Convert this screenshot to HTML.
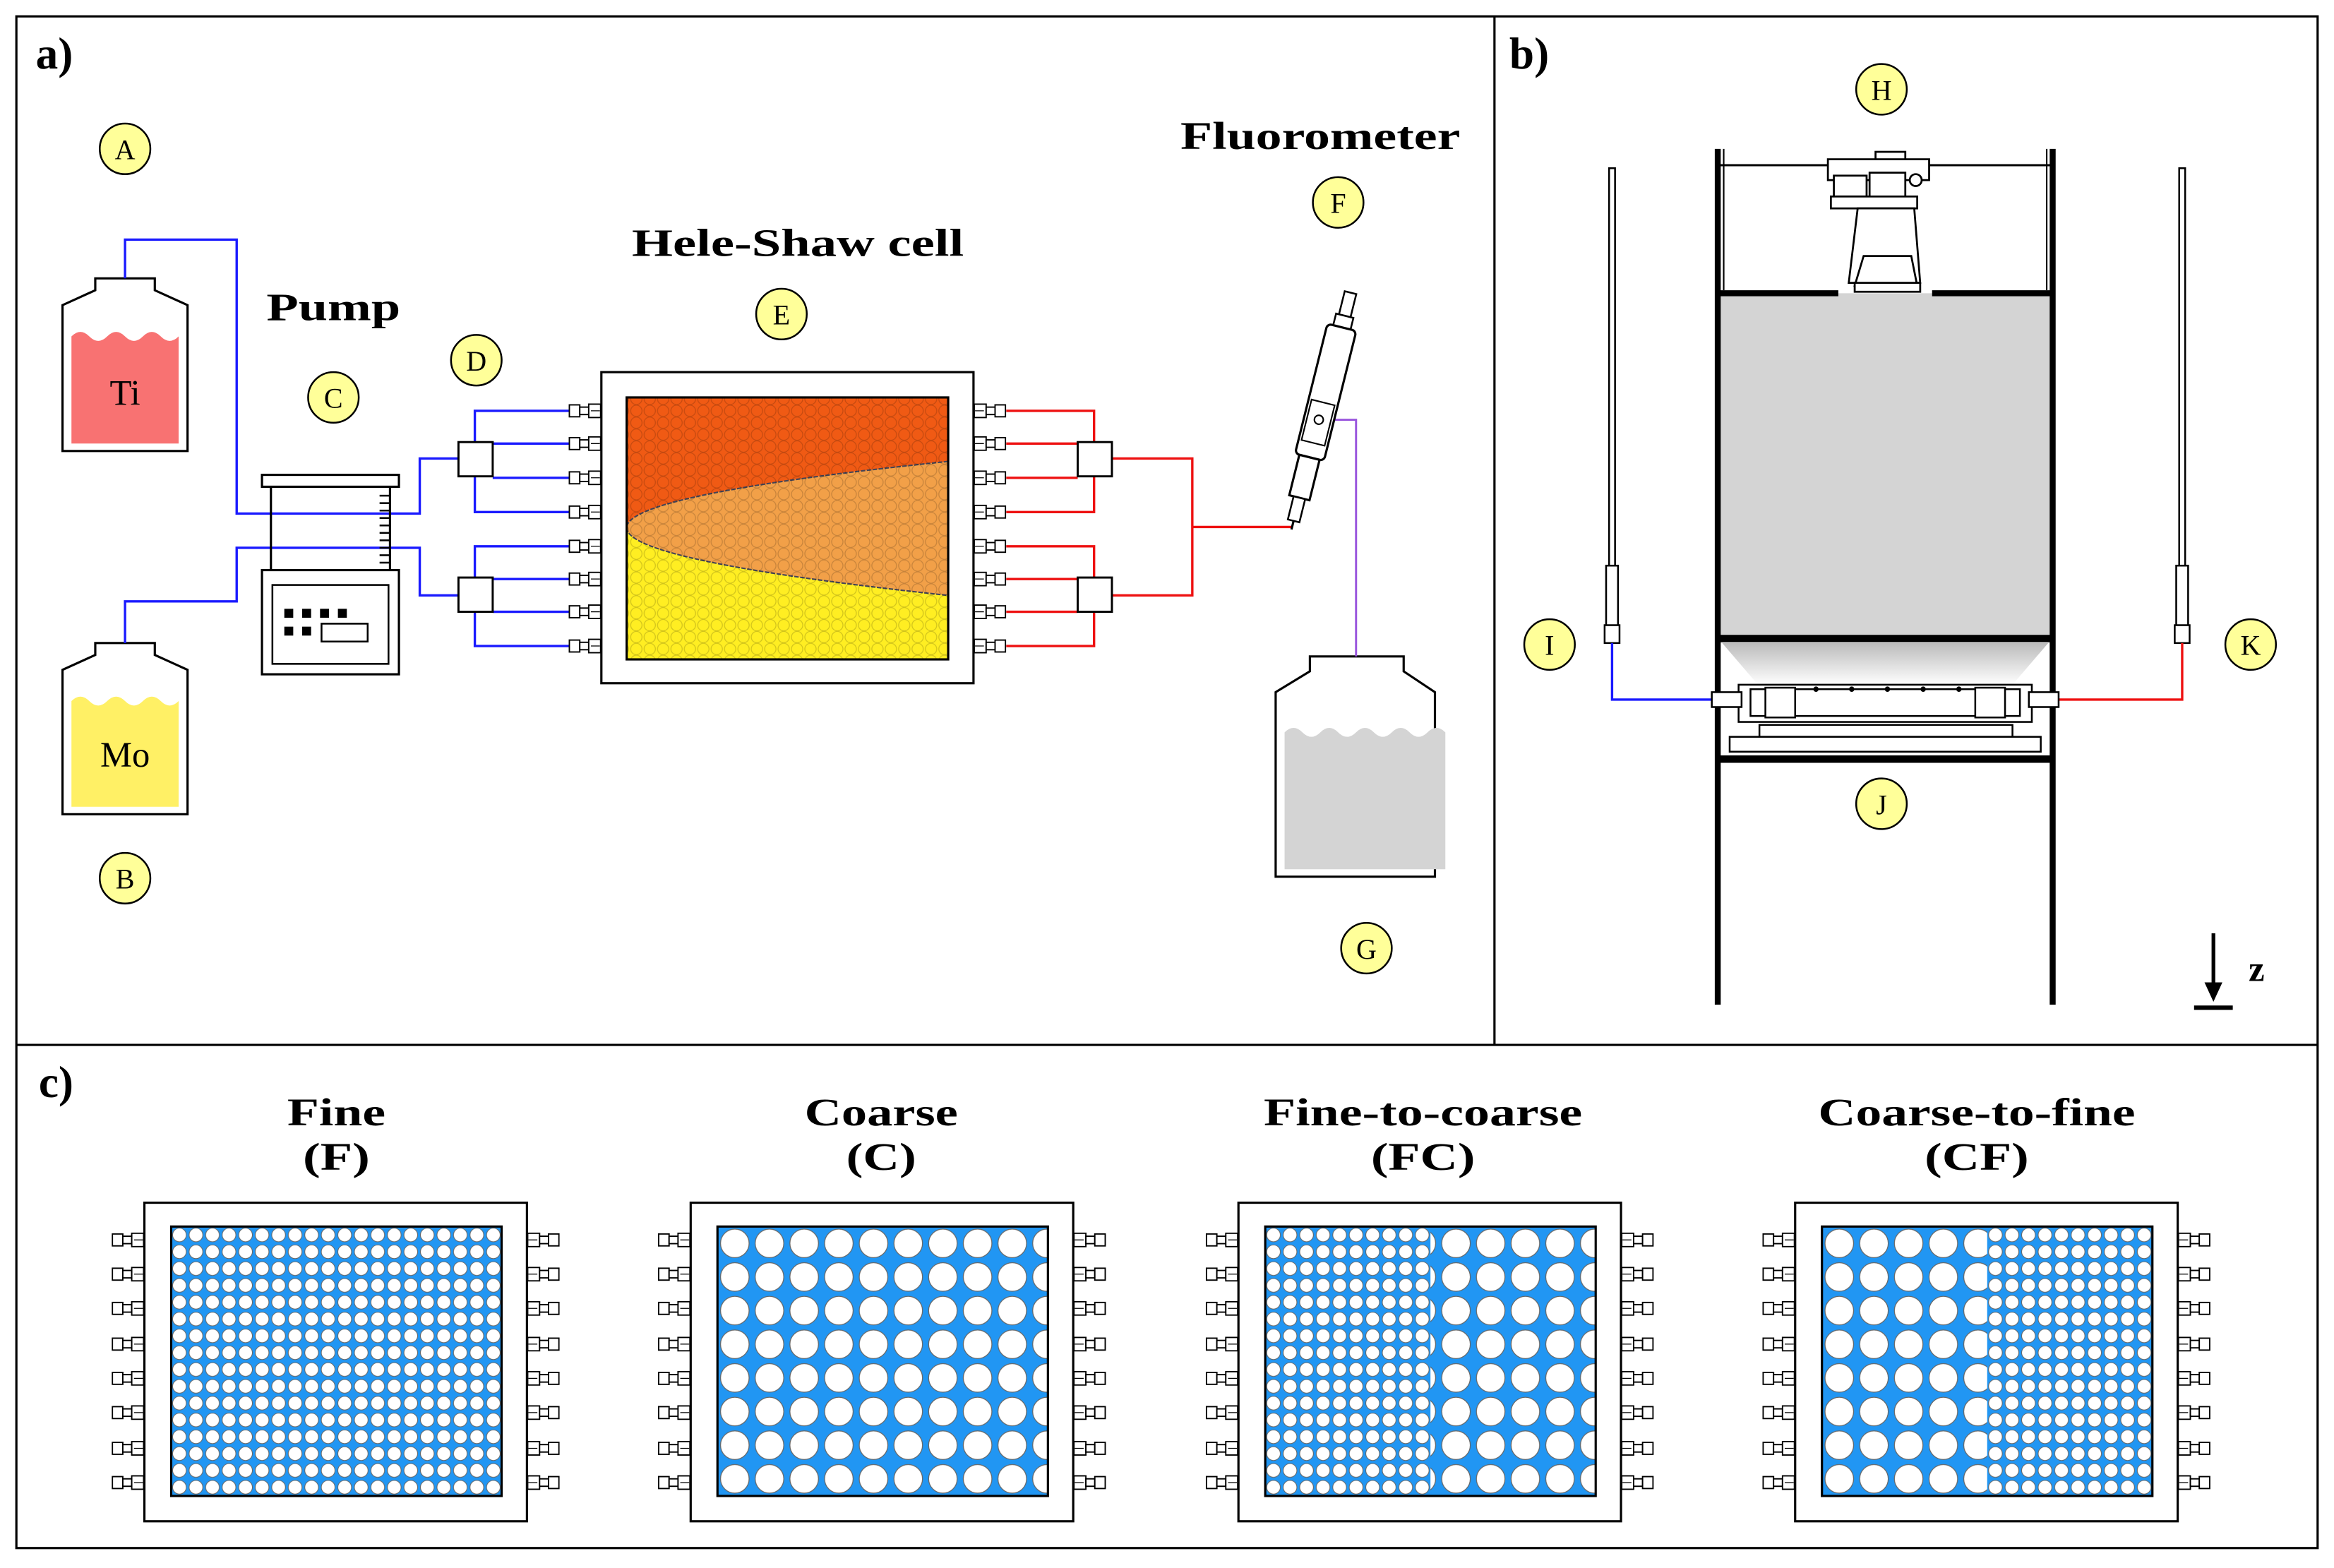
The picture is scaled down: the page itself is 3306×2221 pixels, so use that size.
<!DOCTYPE html>
<html><head><meta charset="utf-8">
<style>
html,body{margin:0;padding:0;background:#fff;}
svg{display:block;}
text{font-family:"Liberation Serif",serif;}
</style></head>
<body>
<svg width="3306" height="2221" viewBox="0 0 1568 1053.4" xmlns="http://www.w3.org/2000/svg">
<defs>
  <pattern id="hex" width="9" height="8" patternUnits="userSpaceOnUse">
    <circle cx="4.5" cy="4" r="3.8" fill="none" stroke="#000" stroke-opacity="0.18" stroke-width="0.6"/>
  </pattern>
  <pattern id="fine" x="115" y="824" width="11.1" height="11.3" patternUnits="userSpaceOnUse">
    <circle cx="5.55" cy="5.65" r="4.6" fill="#fff" stroke="#666" stroke-width="0.5"/>
  </pattern>
  <pattern id="coarse" x="115" y="824" width="23.3" height="22.6" patternUnits="userSpaceOnUse">
    <circle cx="11.65" cy="11.3" r="9.6" fill="#fff" stroke="#666" stroke-width="0.6"/>
  </pattern>
  <symbol id="conL" viewBox="0 0 22 10" width="22" height="10">
    <rect x="0.5" y="1" width="7" height="8" fill="#fff" stroke="#000" stroke-width="0.9"/>
    <rect x="7.5" y="2.5" width="6" height="5" fill="#fff" stroke="#000" stroke-width="0.9"/>
    <rect x="13.5" y="0.5" width="8" height="9" fill="#fff" stroke="#000" stroke-width="0.9"/>
    <line x1="15" y1="5" x2="21" y2="5" stroke="#000" stroke-width="0.6"/>
  </symbol>
  <symbol id="conR" viewBox="0 0 22 10" width="22" height="10">
    <rect x="0.5" y="0.5" width="8" height="9" fill="#fff" stroke="#000" stroke-width="0.9"/>
    <rect x="8.5" y="2.5" width="6" height="5" fill="#fff" stroke="#000" stroke-width="0.9"/>
    <rect x="14.5" y="1" width="7" height="8" fill="#fff" stroke="#000" stroke-width="0.9"/>
    <line x1="1" y1="5" x2="7" y2="5" stroke="#000" stroke-width="0.6"/>
  </symbol>
  <linearGradient id="funnel" x1="0" y1="0" x2="0" y2="1">
    <stop offset="0" stop-color="#bbb"/><stop offset="1" stop-color="#fff"/>
  </linearGradient>
</defs>

<rect x="11" y="11" width="1546" height="1029" fill="none" stroke="#000" stroke-width="1.5"/>
<line x1="1004" y1="11" x2="1004" y2="702" stroke="#000" stroke-width="1.5"/>
<line x1="11" y1="702" x2="1557" y2="702" stroke="#000" stroke-width="1.5"/>

<g font-weight="bold" font-size="30">
<text x="24" y="46">a)</text>
<text x="1014" y="46">b)</text>
<text x="26" y="737">c)</text>
</g>

<g font-size="26" font-weight="bold" text-anchor="middle" lengthAdjust="spacingAndGlyphs">
<text x="887" y="100" textLength="188" lengthAdjust="spacingAndGlyphs">Fluorometer</text>
<text x="536" y="172" textLength="223" lengthAdjust="spacingAndGlyphs">Hele-Shaw cell</text>
<text x="224" y="215" textLength="90" lengthAdjust="spacingAndGlyphs">Pump</text>
</g>

<path d="M64,187 H104 V195 L126,205 V303 H42 V205 L64,195 Z" fill="#fff" stroke="#000" stroke-width="1.5"/>
<path d="M48,226 q6,-6 12,0 q6,6 12,0 q6,-6 12,0 q6,6 12,0 q6,-6 12,0 q6,6 12,0 V298 H48 Z" fill="#f87272"/>
<text x="84" y="272" font-size="24" text-anchor="middle">Ti</text>
<path d="M64,432 H104 V440 L126,450 V547 H42 V450 L64,440 Z" fill="#fff" stroke="#000" stroke-width="1.5"/>
<path d="M48,471 q6,-6 12,0 q6,6 12,0 q6,-6 12,0 q6,6 12,0 q6,-6 12,0 q6,6 12,0 V542 H48 Z" fill="#fff065"/>
<text x="84" y="515" font-size="24" text-anchor="middle">Mo</text>

<path d="M880,441 H943 V451 L964,465 V589 H857 V465 L880,451 Z" fill="#fff" stroke="#000" stroke-width="1.5"/>
<path d="M863,492 q6,-6 12,0 q6,6 12,0 q6,-6 12,0 q6,6 12,0 q6,-6 12,0 q6,6 12,0 q6,-6 12,0 q6,6 12,0 q6,-6 12,0 V584 H863 Z" fill="#d4d4d4"/>

<g fill="none" stroke="#1a1aff" stroke-width="1.6">
<path d="M84,187 V161 H159 V345 H282 V308 H308"/>
<path d="M84,432 V404 H159 V368 H282 V400 H308"/>
<path d="M319,297 V276 H385 M331,298 H385 M331,321 H385 M319,320 V344 H385"/>
<path d="M319,388 V367 H385 M331,389 H385 M331,411 H385 M319,411 V434 H385"/>
</g>
<g fill="none" stroke="#ee1111" stroke-width="1.6">
<path d="M676,276 H735 V297 M676,298 H724 M676,321 H724 M735,320 V344 H676"/>
<path d="M676,367 H735 V388 M676,389 H724 M676,411 H724 M735,411 V434 H676"/>
<path d="M746,308 H801 V400 H746 M801,354 H868"/>
</g>
<path d="M886,282 H911 V441" fill="none" stroke="#9955dd" stroke-width="1.4"/>

<g fill="#fff" stroke="#000" stroke-width="1.4">
<rect x="308" y="297" width="23" height="23"/>
<rect x="308" y="388" width="23" height="23"/>
<rect x="724" y="297" width="23" height="23"/>
<rect x="724" y="388" width="23" height="23"/>
</g>

<rect x="176" y="319" width="92" height="8" fill="#fff" stroke="#000" stroke-width="1.5"/>
<line x1="182" y1="327" x2="182" y2="383" stroke="#000" stroke-width="1.5"/>
<line x1="262" y1="327" x2="262" y2="383" stroke="#000" stroke-width="1.5"/>
<g stroke="#000" stroke-width="1.2">
<line x1="255" y1="333" x2="262" y2="333"/><line x1="255" y1="338" x2="262" y2="338"/><line x1="255" y1="343" x2="262" y2="343"/><line x1="255" y1="348" x2="262" y2="348"/><line x1="255" y1="353" x2="262" y2="353"/><line x1="255" y1="358" x2="262" y2="358"/><line x1="255" y1="363" x2="262" y2="363"/><line x1="255" y1="368" x2="262" y2="368"/><line x1="255" y1="373" x2="262" y2="373"/><line x1="255" y1="378" x2="262" y2="378"/>
</g>
<rect x="176" y="383" width="92" height="70" fill="#fff" stroke="#000" stroke-width="1.5"/>
<rect x="183" y="393" width="78" height="53" fill="#fff" stroke="#000" stroke-width="1.2"/>
<g fill="#000"><rect x="191" y="409" width="6" height="6"/><rect x="203" y="409" width="6" height="6"/><rect x="215" y="409" width="6" height="6"/><rect x="227" y="409" width="6" height="6"/><rect x="191" y="421" width="6" height="6"/><rect x="203" y="421" width="6" height="6"/></g>
<rect x="216" y="419" width="31" height="12" fill="#fff" stroke="#000" stroke-width="1.2"/>

<rect x="404" y="250" width="250" height="209" fill="#fff" stroke="#000" stroke-width="1.5"/>
<path d="M421,267 H637 V310 Q421,332 421,354.5 Z" fill="#f05a14"/>
<path d="M421,354.5 Q421,377 637,400 V443 H421 Z" fill="#ffee22"/>
<path d="M637,310 Q205,354 637,400 Z" fill="#f2a048"/>
<path d="M637,310 Q205,354 637,400" fill="none" stroke="#445" stroke-width="1" stroke-dasharray="3,1"/>
<rect x="421" y="267" width="216" height="176" fill="url(#hex)"/>
<rect x="421" y="267" width="216" height="176" fill="none" stroke="#000" stroke-width="1.5"/>
<g>
<use href="#conL" x="382" y="271"/><use href="#conL" x="382" y="293"/><use href="#conL" x="382" y="316"/><use href="#conL" x="382" y="339"/>
<use href="#conL" x="382" y="362"/><use href="#conL" x="382" y="384"/><use href="#conL" x="382" y="406"/><use href="#conL" x="382" y="429"/>
<use href="#conR" x="654" y="271"/><use href="#conR" x="654" y="293"/><use href="#conR" x="654" y="316"/><use href="#conR" x="654" y="339"/>
<use href="#conR" x="654" y="362"/><use href="#conR" x="654" y="384"/><use href="#conR" x="654" y="406"/><use href="#conR" x="654" y="429"/>
</g>

<g transform="translate(886,282) rotate(14)">
<rect x="-4" y="-88" width="8" height="16" fill="#fff" stroke="#000" stroke-width="1.2"/>
<rect x="-6" y="-72" width="12" height="8" fill="#fff" stroke="#000" stroke-width="1.2"/>
<rect x="-10" y="-64" width="20" height="90" rx="3" fill="#fff" stroke="#000" stroke-width="1.5"/>
<rect x="-8" y="-12" width="16" height="28" fill="#fff" stroke="#000" stroke-width="1"/>
<circle cx="0" cy="0" r="3" fill="#fff" stroke="#000"/>
<rect x="-7" y="26" width="14" height="28" fill="#fff" stroke="#000" stroke-width="1.5"/>
<rect x="-4" y="54" width="8" height="16" fill="#fff" stroke="#000" stroke-width="1.2"/>
<line x1="0" y1="70" x2="0" y2="76" stroke="#000" stroke-width="1.5"/>
</g>

<rect x="1154" y="197" width="225" height="233" fill="#d4d4d4"/>
<g stroke="#000" fill="none">
<line x1="1154" y1="100" x2="1154" y2="675" stroke-width="4"/>
<line x1="1379" y1="100" x2="1379" y2="675" stroke-width="4"/>
<line x1="1154" y1="111" x2="1379" y2="111" stroke-width="1.4"/>
<line x1="1158" y1="100" x2="1158" y2="195" stroke-width="1"/>
<line x1="1375" y1="100" x2="1375" y2="195" stroke-width="1"/>
<line x1="1154" y1="197" x2="1235" y2="197" stroke-width="4"/>
<line x1="1298" y1="197" x2="1379" y2="197" stroke-width="4"/>
<line x1="1154" y1="429" x2="1379" y2="429" stroke-width="5"/>
<line x1="1154" y1="510" x2="1379" y2="510" stroke-width="5"/>
</g>
<path d="M1157,432 H1376 L1352,460 H1181 Z" fill="url(#funnel)"/>
<g fill="#fff" stroke="#000" stroke-width="1.2">
<rect x="1081" y="113" width="4" height="270"/>
<rect x="1079" y="380" width="8" height="45"/>
<rect x="1078" y="420" width="10" height="12"/>
<rect x="1464" y="113" width="4" height="270"/>
<rect x="1462" y="380" width="8" height="45"/>
<rect x="1461" y="420" width="10" height="12"/>
</g>
<path d="M1083,432 V470 H1155" fill="none" stroke="#1a1aff" stroke-width="1.6"/>
<path d="M1466,432 V470 H1379" fill="none" stroke="#ee1111" stroke-width="1.6"/>
<g fill="#fff" stroke="#000" stroke-width="1.2">
<rect x="1168" y="460" width="197" height="25"/>
<rect x="1176" y="463" width="181" height="18"/>
<rect x="1182" y="487" width="170" height="8"/>
<rect x="1162" y="495" width="209" height="10"/>
<rect x="1150" y="465" width="20" height="10"/>
<rect x="1363" y="465" width="20" height="10"/>
<rect x="1186" y="462" width="20" height="20"/>
<rect x="1327" y="462" width="20" height="20"/>
</g>
<g fill="#000"><circle cx="1220" cy="463" r="1.8"/><circle cx="1244" cy="463" r="1.8"/><circle cx="1268" cy="463" r="1.8"/><circle cx="1292" cy="463" r="1.8"/><circle cx="1316" cy="463" r="1.8"/></g>
<g fill="#fff" stroke="#000" stroke-width="1.3">
<rect x="1260" y="102" width="20" height="6"/>
<rect x="1228" y="107" width="68" height="14"/>
<rect x="1232" y="118" width="22" height="14"/>
<rect x="1256" y="116" width="24" height="20"/>
<circle cx="1287" cy="121" r="4"/>
<rect x="1230" y="132" width="58" height="8"/>
<path d="M1248,140 H1286 L1290,190 H1242 Z"/>
<path d="M1252,172 H1284 L1288,192 H1246 Z"/>
<rect x="1246" y="190" width="44" height="6"/>
</g>
<line x1="1487" y1="627" x2="1487" y2="665" stroke="#000" stroke-width="2.5"/>
<path d="M1481,660 L1487,673 L1493,660 Z" fill="#000"/>
<line x1="1474" y1="677" x2="1500" y2="677" stroke="#000" stroke-width="3"/>
<text x="1516" y="659" font-size="24" font-weight="bold" text-anchor="middle">z</text>

<g fill="#ffff99" stroke="#000" stroke-width="1.2">
<circle cx="84" cy="100" r="17"/><circle cx="84" cy="590" r="17"/><circle cx="224" cy="267" r="17"/>
<circle cx="320" cy="242" r="17"/><circle cx="525" cy="211" r="17"/><circle cx="899" cy="136" r="17"/>
<circle cx="918" cy="637" r="17"/><circle cx="1264" cy="60" r="17"/><circle cx="1041" cy="433" r="17"/>
<circle cx="1264" cy="540" r="17"/><circle cx="1512" cy="433" r="17"/>
</g>
<g font-size="19" text-anchor="middle">
<text x="84" y="107">A</text><text x="84" y="597">B</text><text x="224" y="274">C</text>
<text x="320" y="249">D</text><text x="525" y="218">E</text><text x="899" y="143">F</text>
<text x="918" y="644">G</text><text x="1264" y="67">H</text><text x="1041" y="440">I</text>
<text x="1264" y="547">J</text><text x="1512" y="440">K</text>
</g>

<g font-size="26" font-weight="bold" text-anchor="middle">
<text x="226" y="756" textLength="66" lengthAdjust="spacingAndGlyphs">Fine</text><text x="226" y="786" textLength="45" lengthAdjust="spacingAndGlyphs">(F)</text>
<text x="592" y="756" textLength="103" lengthAdjust="spacingAndGlyphs">Coarse</text><text x="592" y="786" textLength="47" lengthAdjust="spacingAndGlyphs">(C)</text>
<text x="956" y="756" textLength="214" lengthAdjust="spacingAndGlyphs">Fine-to-coarse</text><text x="956" y="786" textLength="70" lengthAdjust="spacingAndGlyphs">(FC)</text>
<text x="1328" y="756" textLength="213" lengthAdjust="spacingAndGlyphs">Coarse-to-fine</text><text x="1328" y="786" textLength="70" lengthAdjust="spacingAndGlyphs">(CF)</text>
</g>

<g>
<rect x="97" y="808" width="257" height="214" fill="#fff" stroke="#000" stroke-width="1.5"/>
<rect x="115" y="824" width="222" height="181" fill="#2196f3"/>
<rect x="115" y="824" width="222" height="181" fill="url(#fine)"/>
<rect x="115" y="824" width="222" height="181" fill="none" stroke="#000" stroke-width="1.5"/>
<use href="#conL" x="75" y="828"/><use href="#conL" x="75" y="851"/><use href="#conL" x="75" y="874"/><use href="#conL" x="75" y="898"/>
<use href="#conL" x="75" y="921"/><use href="#conL" x="75" y="944"/><use href="#conL" x="75" y="968"/><use href="#conL" x="75" y="991"/>
<use href="#conR" x="354" y="828"/><use href="#conR" x="354" y="851"/><use href="#conR" x="354" y="874"/><use href="#conR" x="354" y="898"/>
<use href="#conR" x="354" y="921"/><use href="#conR" x="354" y="944"/><use href="#conR" x="354" y="968"/><use href="#conR" x="354" y="991"/>
</g>
<g transform="translate(367,0)">
<rect x="97" y="808" width="257" height="214" fill="#fff" stroke="#000" stroke-width="1.5"/>
<rect x="115" y="824" width="222" height="181" fill="#2196f3"/>
<rect x="115" y="824" width="222" height="181" fill="url(#coarse)"/>
<rect x="115" y="824" width="222" height="181" fill="none" stroke="#000" stroke-width="1.5"/>
<use href="#conL" x="75" y="828"/><use href="#conL" x="75" y="851"/><use href="#conL" x="75" y="874"/><use href="#conL" x="75" y="898"/>
<use href="#conL" x="75" y="921"/><use href="#conL" x="75" y="944"/><use href="#conL" x="75" y="968"/><use href="#conL" x="75" y="991"/>
<use href="#conR" x="354" y="828"/><use href="#conR" x="354" y="851"/><use href="#conR" x="354" y="874"/><use href="#conR" x="354" y="898"/>
<use href="#conR" x="354" y="921"/><use href="#conR" x="354" y="944"/><use href="#conR" x="354" y="968"/><use href="#conR" x="354" y="991"/>
</g>
<g transform="translate(735,0)">
<rect x="97" y="808" width="257" height="214" fill="#fff" stroke="#000" stroke-width="1.5"/>
<rect x="115" y="824" width="222" height="181" fill="#2196f3"/>
<rect x="115" y="824" width="111" height="181" fill="url(#fine)"/>
<rect x="226" y="824" width="111" height="181" fill="url(#coarse)"/>
<rect x="115" y="824" width="222" height="181" fill="none" stroke="#000" stroke-width="1.5"/>
<use href="#conL" x="75" y="828"/><use href="#conL" x="75" y="851"/><use href="#conL" x="75" y="874"/><use href="#conL" x="75" y="898"/>
<use href="#conL" x="75" y="921"/><use href="#conL" x="75" y="944"/><use href="#conL" x="75" y="968"/><use href="#conL" x="75" y="991"/>
<use href="#conR" x="354" y="828"/><use href="#conR" x="354" y="851"/><use href="#conR" x="354" y="874"/><use href="#conR" x="354" y="898"/>
<use href="#conR" x="354" y="921"/><use href="#conR" x="354" y="944"/><use href="#conR" x="354" y="968"/><use href="#conR" x="354" y="991"/>
</g>
<g transform="translate(1109,0)">
<rect x="97" y="808" width="257" height="214" fill="#fff" stroke="#000" stroke-width="1.5"/>
<rect x="115" y="824" width="222" height="181" fill="#2196f3"/>
<rect x="115" y="824" width="111" height="181" fill="url(#coarse)"/>
<rect x="226" y="824" width="111" height="181" fill="url(#fine)"/>
<rect x="115" y="824" width="222" height="181" fill="none" stroke="#000" stroke-width="1.5"/>
<use href="#conL" x="75" y="828"/><use href="#conL" x="75" y="851"/><use href="#conL" x="75" y="874"/><use href="#conL" x="75" y="898"/>
<use href="#conL" x="75" y="921"/><use href="#conL" x="75" y="944"/><use href="#conL" x="75" y="968"/><use href="#conL" x="75" y="991"/>
<use href="#conR" x="354" y="828"/><use href="#conR" x="354" y="851"/><use href="#conR" x="354" y="874"/><use href="#conR" x="354" y="898"/>
<use href="#conR" x="354" y="921"/><use href="#conR" x="354" y="944"/><use href="#conR" x="354" y="968"/><use href="#conR" x="354" y="991"/>
</g>
</svg>
</body></html>
